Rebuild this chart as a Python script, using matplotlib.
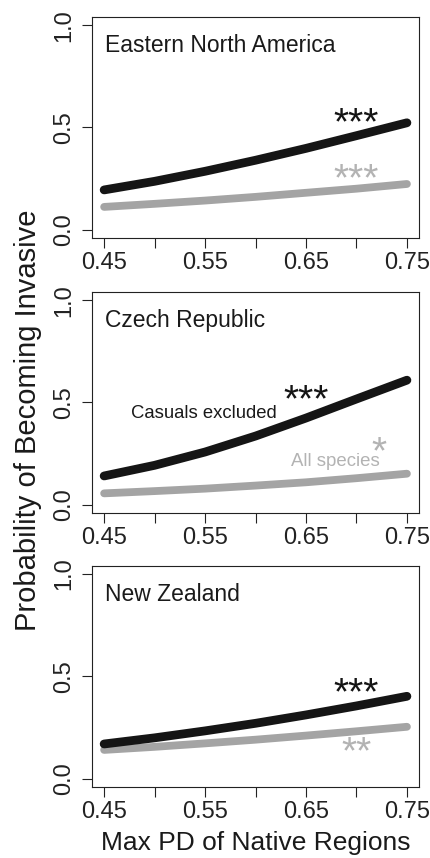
import matplotlib
matplotlib.use("Agg")
import matplotlib.pyplot as plt

plt.rcParams['font.family'] = ['Liberation Sans', 'DejaVu Sans']

# max PD of native regions (x) and predicted probabilities
pd_x = [0.45, 0.50, 0.55, 0.60, 0.65, 0.70, 0.75]

regions = ["Eastern North America", "Czech Republic", "New Zealand"]

# black = casuals excluded, grey = all species
ena_excl = [0.195, 0.237, 0.286, 0.340, 0.398, 0.460, 0.523]
ena_all = [0.112, 0.127, 0.143, 0.161, 0.181, 0.201, 0.224]
cz_excl = [0.141, 0.193, 0.258, 0.336, 0.424, 0.517, 0.609]
cz_all = [0.056, 0.067, 0.079, 0.094, 0.110, 0.130, 0.152]
nz_excl = [0.170, 0.200, 0.234, 0.271, 0.312, 0.356, 0.403]
nz_all = [0.141, 0.156, 0.173, 0.191, 0.211, 0.232, 0.254]

excl_stars = ["***", "***", "***"]
all_stars = ["***", "*", "**"]

xticks = [0.45, 0.50, 0.55, 0.60, 0.65, 0.70, 0.75]
xlabels = ["0.45", "", "0.55", "", "0.65", "", "0.75"]
yticks = [0.0, 0.5, 1.0]
ylabels = ["0.0", "0.5", "1.0"]

excl = [ena_excl, cz_excl, nz_excl]
alls = [ena_all, cz_all, nz_all]

black = "#151515"
grey = "#a4a4a4"
grey_txt = "#b3b3b3"

fig = plt.figure(figsize=(4.3, 8.58), dpi=100)

bottoms = [0.7226, 0.4021, 0.0828]
# star positions (x, y) in data units for each panel
excl_pos = [(0.700, 0.516), (0.650, 0.508), (0.700, 0.412)]
all_pos = [(0.700, 0.243), (0.7225, 0.250), (0.700, 0.125)]

for i in range(3):
    ax = fig.add_axes([0.214, bottoms[i], 0.7605, 0.2576])
    ax.plot(pd_x, alls[i], color=grey, lw=5.6, solid_capstyle='round')
    ax.plot(pd_x, excl[i], color=black, lw=6.3, solid_capstyle='round')
    ax.set_xlim(0.438, 0.762)
    ax.set_ylim(-0.04, 1.04)
    ax.set_xticks(xticks)
    ax.set_xticklabels(xlabels)
    ax.set_yticks(yticks)
    ax.set_yticklabels(ylabels, rotation=90, va='center')
    ax.tick_params(direction='out', length=7, width=0.8, labelsize=17,
                   colors='#222222')
    ax.tick_params(axis='y', pad=5)
    ax.tick_params(axis='x', pad=3)
    for s in ax.spines.values():
        s.set_linewidth(0.8)
        s.set_color('#222222')

    ax.text(0.451, 0.90, regions[i], fontsize=16.5, color='#1a1a1a',
            ha='left', va='center')
    ax.text(excl_pos[i][0], excl_pos[i][1], excl_stars[i], fontsize=28,
            color=black, ha='center', va='center')
    ax.text(all_pos[i][0], all_pos[i][1], all_stars[i], fontsize=28,
            color=grey_txt, ha='center', va='center')

    if i == 1:
        ax.text(0.4767, 0.447, "Casuals excluded", fontsize=13.3,
                color='#1a1a1a', ha='left', va='center')
        ax.text(0.635, 0.212, "All species", fontsize=13.4,
                color=grey_txt, ha='left', va='center')

fig.text(0.594, 0.0175, "Max PD of Native Regions", fontsize=19,
         color='#1a1a1a', ha='center', va='center')
fig.text(0.065, 0.51, "Probability of Becoming Invasive", fontsize=21,
         color='#1a1a1a', ha='center', va='center', rotation=90)

fig.savefig("out.png", dpi=100)
